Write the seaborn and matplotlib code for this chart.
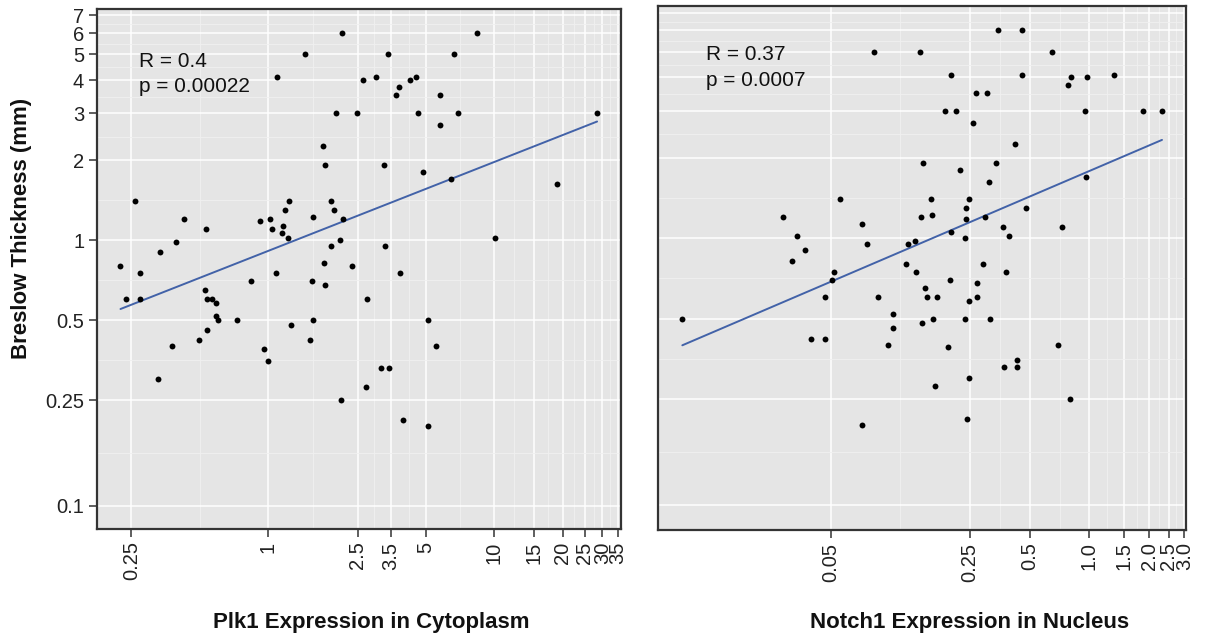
# Corrélation épaisseur de Breslow / expression Plk1 et Notch1 (échelles log-log)
import numpy as np
import pandas as pd
import matplotlib
matplotlib.use("Agg")
import matplotlib.pyplot as plt
from matplotlib.ticker import NullFormatter
import seaborn as sns

# Panneau gauche : Plk1 (cytoplasme)
plk1_cyto = [2.13, 1.46, 1.10, 2.00, 2.48, 1.75, 1.79, 0.259, 1.24, 1.90,
             1.19, 1.96, 0.427, 1.59, 2.14, 0.925, 1.02, 1.04, 0.536, 1.17,
             1.156, 1.23, 0.395, 2.08, 0.336, 1.91, 0.224, 0.274, 1.77, 2.36,
             1.09, 0.844, 1.56, 1.79, 0.530, 0.237, 0.274, 0.541, 0.569, 0.591,
             0.589, 0.603, 0.730, 1.58, 1.27, 0.541, 0.496, 1.54, 0.378, 0.966,
             1.00, 0.327, 2.10, 8.39, 3.41, 6.64, 2.63, 3.01, 4.23, 4.53,
             3.81, 3.68, 5.78, 4.59, 6.90, 28.4, 5.78, 3.27, 4.85, 6.46,
             18.9, 10.1, 3.28, 3.82, 2.75, 5.10, 5.55, 3.16, 3.44, 2.71,
             3.95, 5.11]
breslow_plk1 = [6.0, 5.0, 4.1, 3.0, 3.0, 2.25, 1.92, 1.40, 1.40, 1.40,
                1.30, 1.30, 1.20, 1.22, 1.20, 1.18, 1.20, 1.10, 1.10, 1.13,
                1.06, 1.02, 0.98, 1.00, 0.90, 0.95, 0.80, 0.75, 0.82, 0.80,
                0.75, 0.70, 0.70, 0.68, 0.65, 0.60, 0.60, 0.60, 0.60, 0.58,
                0.52, 0.50, 0.50, 0.50, 0.48, 0.46, 0.42, 0.42, 0.40, 0.39,
                0.35, 0.30, 0.25, 6.0, 5.0, 5.0, 4.0, 4.1, 4.0, 4.1,
                3.75, 3.5, 3.5, 3.0, 3.0, 3.0, 2.70, 1.92, 1.80, 1.70,
                1.62, 1.02, 0.95, 0.75, 0.60, 0.50, 0.40, 0.33, 0.33, 0.28,
                0.21, 0.20]

# Panneau droit : Notch1 (noyau)
notch1_noyau = [0.0820, 0.1407, 0.1457, 0.0557, 0.1419, 0.0288, 0.0719, 0.0338, 0.0759, 0.1225,
                0.1323, 0.0369, 0.0318, 0.1197, 0.0518, 0.1343, 0.0506, 0.0468, 0.0865, 0.1491,
                0.1516, 0.1029, 0.00893, 0.1443, 0.1029, 0.0398, 0.0468, 0.0968, 0.0719, 0.3475,
                0.456, 0.645, 0.2001, 0.457, 0.807, 0.971, 1.333, 0.782, 0.2693, 0.306,
                0.1867, 0.2129, 0.953, 1.852, 2.317, 0.2602, 0.4218, 0.3372, 0.2222, 0.311,
                0.957, 0.1588, 0.2466, 0.2399, 0.4775, 0.1607, 0.2390, 0.2979, 0.2001, 0.2371,
                0.3683, 0.3948, 0.727, 0.2921, 0.3787, 0.1985, 0.2706, 0.1702, 0.2484, 0.2725,
                0.1636, 0.2371, 0.3156, 0.1947, 0.692, 0.433, 0.370, 0.433, 0.2484, 0.1663,
                0.798, 0.2427]
breslow_notch1 = [5.0, 5.0, 1.92, 1.40, 1.20, 1.20, 1.13, 1.02, 0.95, 0.95,
                  0.98, 0.90, 0.82, 0.80, 0.75, 0.75, 0.70, 0.60, 0.60, 0.65,
                  0.60, 0.52, 0.50, 0.48, 0.46, 0.42, 0.42, 0.40, 0.20, 6.0,
                  6.0, 5.0, 4.1, 4.1, 4.0, 4.0, 4.1, 3.75, 3.5, 3.5,
                  3.0, 3.0, 3.0, 3.0, 3.0, 2.70, 2.25, 1.92, 1.80, 1.62,
                  1.70, 1.40, 1.40, 1.30, 1.30, 1.22, 1.18, 1.20, 1.06, 1.00,
                  1.10, 1.02, 1.10, 0.80, 0.75, 0.70, 0.68, 0.60, 0.58, 0.60,
                  0.50, 0.50, 0.50, 0.39, 0.40, 0.35, 0.33, 0.33, 0.30, 0.28,
                  0.25, 0.21]

Y_TICKS = [0.1, 0.25, 0.5, 1, 2, 3, 4, 5, 6, 7]
Y_LABELS = ["0.1", "0.25", "0.5", "1", "2", "3", "4", "5", "6", "7"]
X1_TICKS = [0.25, 1, 2.5, 3.5, 5, 10, 15, 20, 25, 30, 35]
X1_LABELS = ["0.25", "1", "2.5", "3.5", "5", "10", "15", "20", "25", "30", "35"]
X2_TICKS = [0.05, 0.25, 0.5, 1.0, 1.5, 2.0, 2.5, 3.0]
X2_LABELS = ["0.05", "0.25", "0.5", "1.0", "1.5", "2.0", "2.5", "3.0"]

FOND = "#E5E5E5"
BORDURE = "#333333"
COULEUR_LIGNE = "#4262A8"

sns.set_theme(style="darkgrid", rc={"axes.facecolor": FOND, "grid.color": "white"})
plt.rcParams["font.family"] = ["Liberation Sans", "DejaVu Sans"]


def mineurs(ticks):
    # graduations mineures au milieu (en log) de deux graduations majeures
    t = np.log10(ticks)
    return list(10 ** ((t[:-1] + t[1:]) / 2))


def panneau(ax, x, y, xlim, ylim, xticks, xlabels, stats, pos_txt, ylab=True):
    df = pd.DataFrame({"x": x, "y": y})
    ax.set_xscale("log")
    ax.set_yscale("log")
    ax.set_xticks(xticks, xlabels, rotation=90)
    ax.set_xticks(mineurs(xticks), minor=True)
    ax.set_yticks(Y_TICKS, Y_LABELS)
    ax.set_yticks(mineurs(Y_TICKS), minor=True)
    ax.xaxis.set_minor_formatter(NullFormatter())
    ax.yaxis.set_minor_formatter(NullFormatter())
    ax.set_xlim(xlim)
    ax.set_ylim(ylim)
    ax.grid(which="major", color="white", linewidth=1.1)
    ax.grid(which="minor", color="#F0F0F0", linewidth=0.6)
    ax.tick_params(which="minor", length=0)
    ax.tick_params(which="major", length=6, width=1.1, color=BORDURE,
                   labelsize=14.5, labelcolor="#222222", pad=3)
    ax.tick_params(axis="x", bottom=True)
    ax.tick_params(axis="y", left=ylab, labelleft=ylab)

    sns.scatterplot(data=df, x="x", y="y", ax=ax, color="black", s=18,
                    linewidth=0, zorder=3)

    # droite de régression (modèle linéaire en log-log)
    pente, origine = np.polyfit(np.log10(df["x"]), np.log10(df["y"]), 1)
    xs = np.logspace(np.log10(df["x"].min()), np.log10(df["x"].max()), 60)
    sns.lineplot(x=xs, y=10 ** (origine + pente * np.log10(xs)), ax=ax,
                 color=COULEUR_LIGNE, linewidth=1.4, zorder=2)

    ax.set_xlabel("")
    ax.set_ylabel("")
    for s in ax.spines.values():
        s.set_visible(True)
        s.set_color(BORDURE)
        s.set_linewidth(1.6)

    ax.text(pos_txt[0], pos_txt[1], stats[0], transform=ax.transAxes,
            fontsize=15, va="baseline", color="#111111")
    ax.text(pos_txt[0], pos_txt[2], stats[1], transform=ax.transAxes,
            fontsize=15, va="baseline", color="#111111")


fig = plt.figure(figsize=(12.06, 6.36), dpi=100)
ax1 = fig.add_axes([96.7 / 1206, 1 - 529 / 636, 524 / 1206, 520 / 636])
ax2 = fig.add_axes([658.3 / 1206, 1 - 530 / 636, 527.7 / 1206, 524 / 636])

panneau(ax1, plk1_cyto, breslow_plk1, (0.1759, 36.1), (0.0818, 7.40),
        X1_TICKS, X1_LABELS, ("R = 0.4", "p = 0.00022"), (0.0807, 0.8885, 0.8404))
panneau(ax2, notch1_noyau, breslow_notch1, (0.00676, 3.06), (0.0808, 7.41),
        X2_TICKS, X2_LABELS, ("R = 0.37", "p = 0.0007"), (0.0904, 0.897, 0.847),
        ylab=False)

fig.text(21.7 / 1206, 1 - 228 / 636, "Breslow Thickness (mm)", rotation=90,
         ha="center", va="center", fontsize=16, fontweight="bold", color="#111111")
fig.text(371.5 / 1206, 1 - 628 / 636, "Plk1 Expression in Cytoplasm",
         ha="center", va="baseline", fontsize=16, fontweight="bold", color="#111111")
fig.text(969.5 / 1206, 1 - 628 / 636, "Notch1 Expression in Nucleus",
         ha="center", va="baseline", fontsize=16, fontweight="bold", color="#111111")

fig.savefig("out.png", dpi=100, facecolor="white")
